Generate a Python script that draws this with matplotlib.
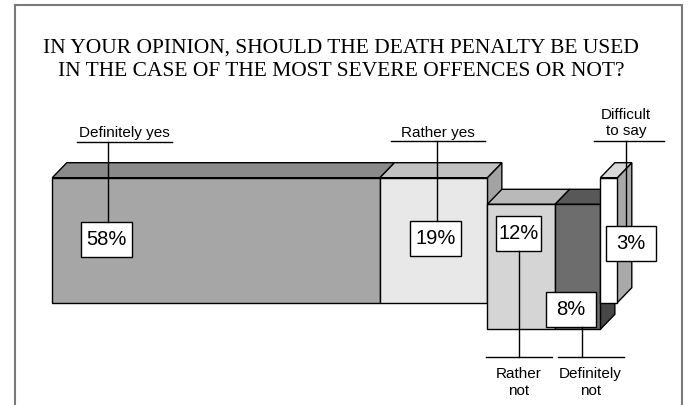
import matplotlib
matplotlib.use("Agg")
import matplotlib.pyplot as plt
from matplotlib.patches import Polygon, Rectangle

# ---- data ----
categories = ["Definitely yes", "Rather yes", "Rather not", "Definitely not", "Difficult to say"]
values = [58, 19, 12, 8, 3]
value_labels = ["58%", "19%", "12%", "8%", "3%"]
label_texts = ["Definitely yes", "Rather yes", "Rather\nnot", "Definitely\nnot", "Difficult\nto say"]
title_lines = ["IN YOUR OPINION, SHOULD THE DEATH PENALTY BE USED",
               "IN THE CASE OF THE MOST SEVERE OFFENCES OR NOT?"]

# ---- style / layout ----
rows = [0, 0, 1, 1, 0]          # 1 = block shifted downward
front_c = ['#a6a6a6', '#e8e8e8', '#d5d5d5', '#6d6d6d', '#ffffff']
top_c = ['#8a8a8a', '#c2c2c2', '#b9b9b9', '#585858', '#d9d9d9']
side_c = ['#8c8c8c', '#a3a3a3', '#a8a8a8', '#474747', '#a9a9a9']

W, H = 688, 405
fig = plt.figure(figsize=(W / 100, H / 100), dpi=100)
fig.patch.set_facecolor('white')

X0, X1 = 52.3, 617.3
bx = fig.add_axes([X0 / W, 0, (X1 - X0) / W, 1])
bx.set_xlim(0, 100)
bx.set_ylim(H, 0)
bx.axis('off')

ov = fig.add_axes([0, 0, 1, 1])
ov.set_xlim(0, W)
ov.set_ylim(H, 0)
ov.axis('off')

px_per_pct = (X1 - X0) / 100.0
dx = 14.5 / px_per_pct
dy = 15.0
front_h = 125.0
row_top = {0: 177.7, 1: 204.3}

left = 0.0
for v, r, fc, tc, sc in zip(values, rows, front_c, top_c, side_c):
    l, rr = left, left + v
    yt = row_top[r]
    yb = yt + front_h
    side = [(rr, yt), (rr + dx, yt - dy), (rr + dx, yb - dy), (rr, yb)]
    top = [(l, yt), (l + dx, yt - dy), (rr + dx, yt - dy), (rr, yt)]
    front = [(l, yt), (rr, yt), (rr, yb), (l, yb)]
    for pts, c in ((side, sc), (top, tc), (front, fc)):
        bx.add_patch(Polygon(pts, closed=True, facecolor=c, edgecolor='black',
                             linewidth=1.0, joinstyle='miter', clip_on=False))
    left = rr

# ---- annotations (pixel layout) ----
box_centers = [(106.5, 239.4), (435.3, 238.5), (518.2, 233.5), (570.8, 309.2), (631.0, 243.2)]
box_widths = [51.6, 50.7, 45.0, 50.3, 50.0]
box_h = 35.0
leader_x = [108.0, 437.3, 519.0, 581.7, 626.0]
underline_y = [141.7, 140.7, 357.3, 357.3, 140.7]
underline_x = [(76.7, 171.7), (390.7, 485.0), (486.0, 551.7), (558.0, 624.0), (594.0, 664.0)]
label_pos = [(124.0, 132.7), (437.8, 132.7), (519.0, 382.5), (590.5, 382.5), (626.0, 123.0)]
below = [False, False, True, True, False]

for i in range(len(values)):
    cx, cy = box_centers[i]
    bw = box_widths[i]
    uy = underline_y[i]
    if below[i]:
        ov.plot([leader_x[i]] * 2, [cy + box_h / 2, uy], color='black', lw=1.0)
    else:
        ov.plot([leader_x[i]] * 2, [uy, cy - box_h / 2], color='black', lw=1.0)
    ov.plot(underline_x[i], [uy, uy], color='black', lw=1.0)
    ov.add_patch(Rectangle((cx - bw / 2, cy - box_h / 2), bw, box_h, facecolor='white',
                           edgecolor='black', linewidth=1.0))
    ov.text(cx, cy, value_labels[i], ha='center', va='center', fontsize=14.5,
            family='Liberation Sans')
    lx, ly = label_pos[i]
    ov.text(lx, ly, label_texts[i], ha='center', va='center', fontsize=11,
            family='Liberation Sans', linespacing=1.2)

# title
ov.text(341, 52.7, title_lines[0], ha='center', va='baseline', fontsize=15.5,
        family='Liberation Serif')
ov.text(341, 76.2, title_lines[1], ha='center', va='baseline', fontsize=15.5,
        family='Liberation Serif')

# frame
fc_ = '#7a7a7a'
ov.plot([14.7, 14.7], [H, 4.7], color=fc_, lw=1.5, solid_capstyle='projecting')
ov.plot([14.7, 681.7], [4.7, 4.7], color=fc_, lw=1.5, solid_capstyle='projecting')
ov.plot([681.7, 681.7], [4.7, H], color=fc_, lw=1.5, solid_capstyle='projecting')

fig.savefig('out.png', dpi=100, facecolor='white')
